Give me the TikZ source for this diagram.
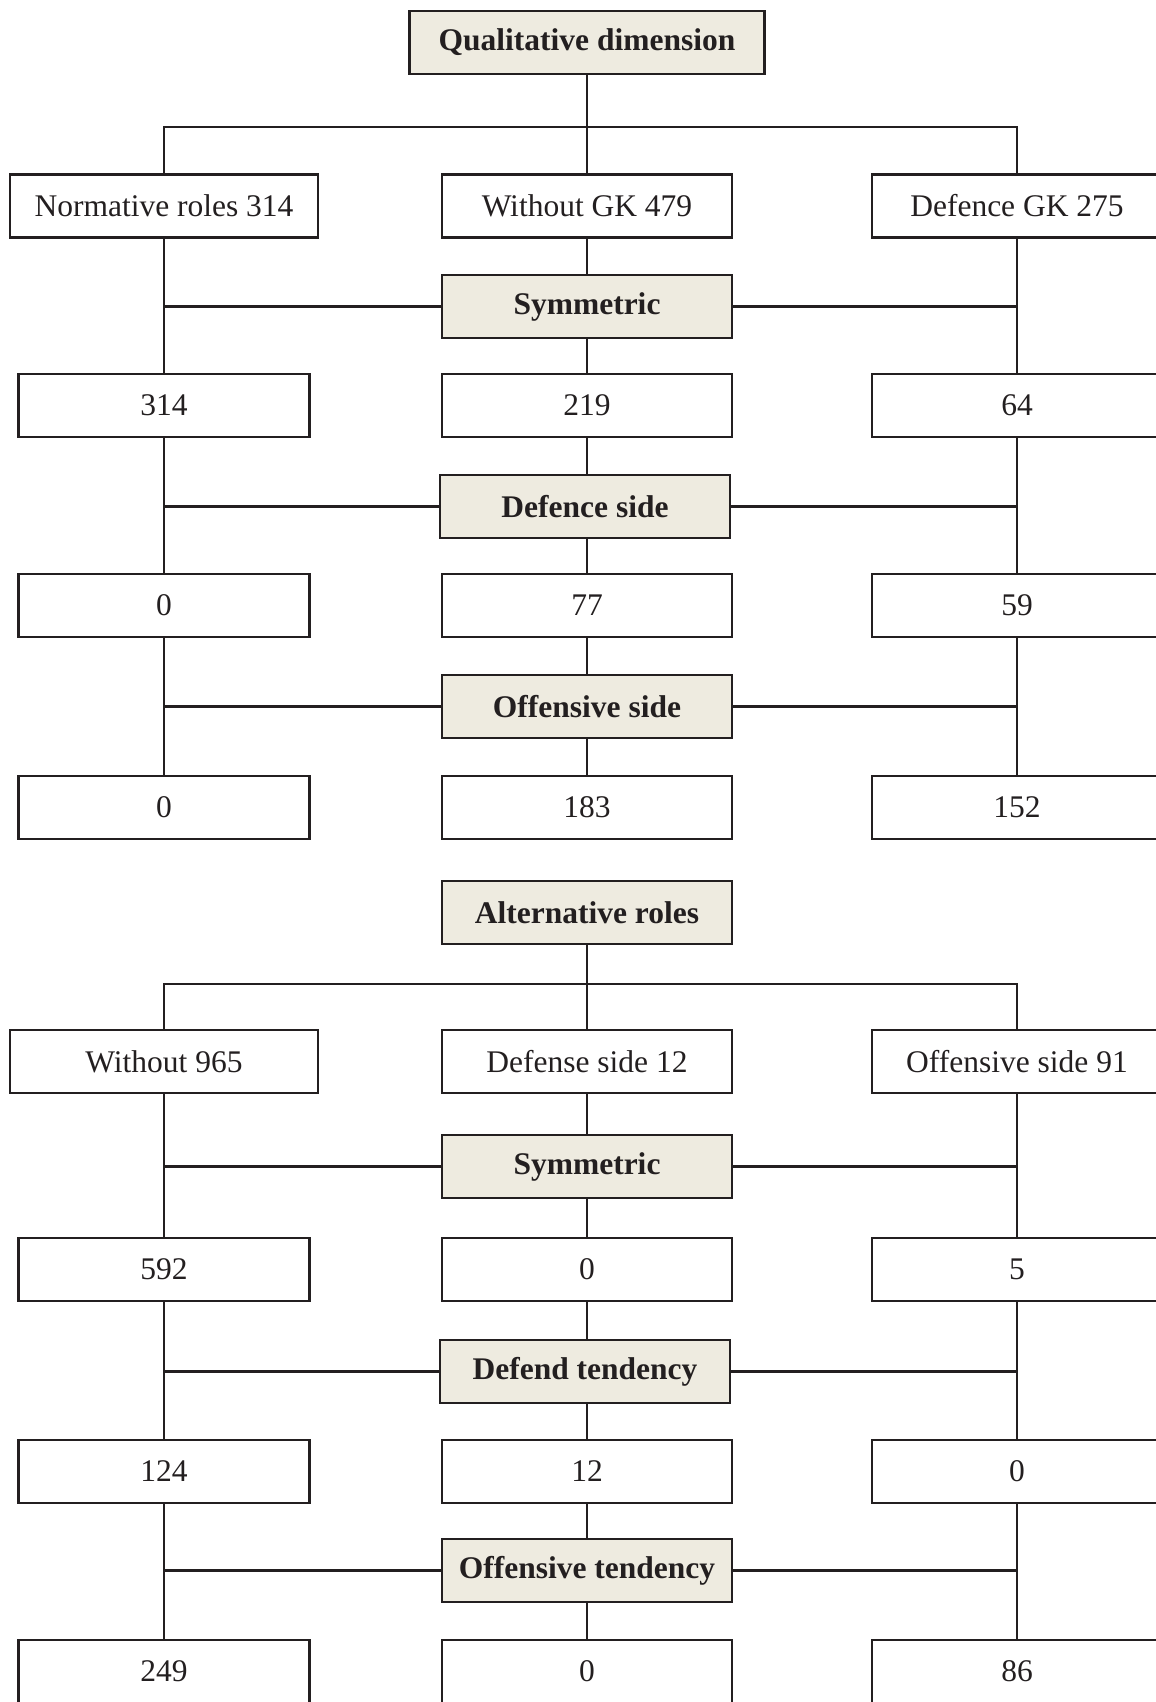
\documentclass[tikz,border=0pt]{standalone}
\usepackage{fontspec}
\setmainfont{Liberation Serif}
\definecolor{boxfill}{HTML}{EEEBE0}
\definecolor{linegray}{HTML}{231F20}
\tikzset{
    valbox/.style={draw=linegray, line width=2.1pt, minimum width=290pt, minimum height=63pt,
        inner sep=0pt, text=linegray, font=\fontsize{31.5}{36}\selectfont},
    catbox/.style={valbox, fill=boxfill, font=\bfseries\fontsize{31.5}{36}\selectfont},
    link/.style={draw=linegray, line width=2.1pt}
}
\begin{document}
\begin{tikzpicture}[x=1pt, y=-1pt]
        \useasboundingbox (0,0) rectangle (1156,1702);
        \clip (0,0) rectangle (1156,1702);
        % Kopf
        \node[catbox, minimum width=355pt] (qd) at (587,42.5) {Qualitative dimension};
        \node[catbox] (alt) at (587,912.5) {Alternative roles};
        % Zeilen
        \foreach \row/\y/\lw/\l/\m/\r in {
            1/206/308/Normative roles 314/Without GK 479/Defence GK 275,
            2/405.5/291/314/219/64,
            3/605.5/291/0/77/59,
            4/807.5/291/0/183/152,
            5/1061.5/308/Without 965/Defense side 12/Offensive side 91,
            6/1269.5/291/592/0/5,
            7/1471.5/291/124/12/0,
            8/1671.5/291/249/0/86}
        {
            \node[valbox, minimum width=\lw pt] (l\row) at (164,\y) {\l};
            \node[valbox] (m\row) at (587,\y) {\m};
            \node[valbox] (r\row) at (1017,\y) {\r};
        }
        % Kategorien
        \node[catbox] (symA) at (587,306.5) {Symmetric};
        \node[catbox] (defside) at (585,506.5) {Defence side};
        \node[catbox] (offside) at (587,706.5) {Offensive side};
        \node[catbox] (symB) at (587,1166.5) {Symmetric};
        \node[catbox] (deftend) at (585,1371.5) {Defend tendency};
        \node[catbox] (offtend) at (587,1570.5) {Offensive tendency};
        % Verbindungen
        \draw[link] (qd.south) -- ++(0,52) coordinate (jA);
        \draw[link] (l1.north) |- (jA) -| (r1.north);
        \draw[link] (jA) -- (m1.north);
        \draw[link] (alt.south) -- ++(0,39) coordinate (jB);
        \draw[link] (l5.north) |- (jB) -| (r5.north);
        \draw[link] (jB) -- (m5.north);
        \foreach \cat/\a/\b in {symA/1/2, defside/2/3, offside/3/4, symB/5/6, deftend/6/7, offtend/7/8}
        {
            \draw[link] (m\a.south) -- (m\a.south |- \cat.north);
            \draw[link] (m\b.north |- \cat.south) -- (m\b.north);
            \draw[link] (l\a.south) -- (l\b.north);
            \draw[link] (r\a.south) -- (r\b.north);
            \draw[link] (\cat.west) -- (\cat.west -| l\a.south);
            \draw[link] (\cat.east) -- (\cat.east -| r\a.south);
        }
\end{tikzpicture}
\end{document}
